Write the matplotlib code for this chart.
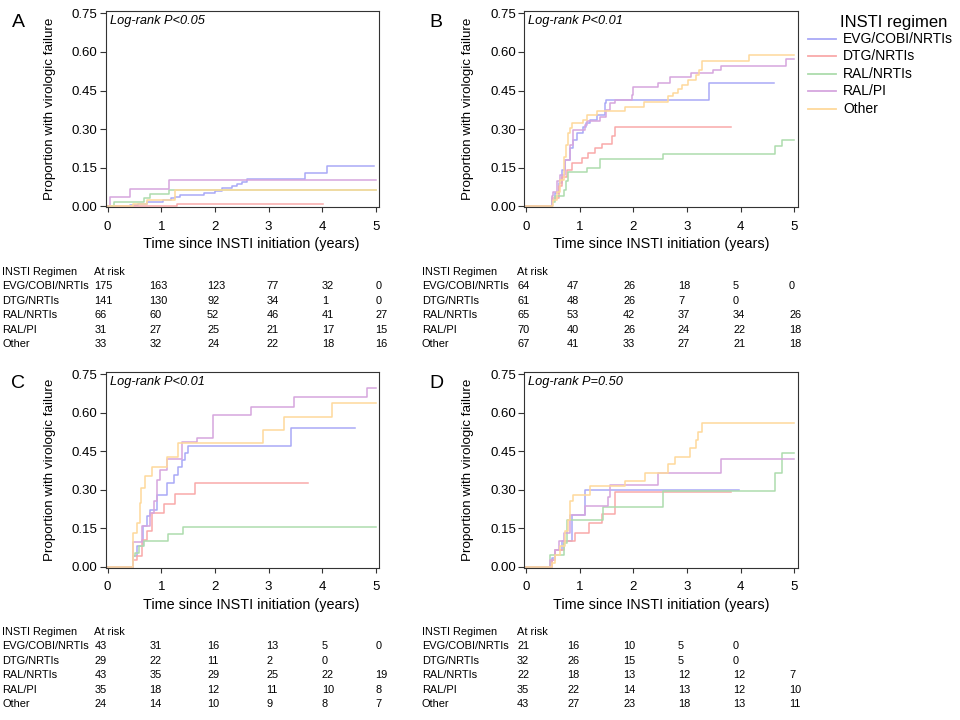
import matplotlib
matplotlib.use('Agg')
import matplotlib.pyplot as plt

W, H = 960, 720
plt.rcParams['font.family'] = ['Liberation Sans', 'DejaVu Sans']

# ---------------- data ----------------
groups = ['EVG/COBI/NRTIs', 'DTG/NRTIs', 'RAL/NRTIs', 'RAL/PI', 'Other']
colors = ['#a9a9f7', '#f9a9a9', '#addcad', '#d6a6de', '#fed99b']
years = [0, 1, 2, 3, 4, 5]
ytick_vals = [0.00, 0.15, 0.30, 0.45, 0.60, 0.75]
panel_letters = ['A', 'B', 'C', 'D']
logrank = ['Log-rank P<0.05', 'Log-rank P<0.01', 'Log-rank P<0.01', 'Log-rank P=0.50']

# Panel A
a_evg_t = [0, 0.41, 0.56, 0.74, 1.03, 1.18, 1.26, 1.35, 1.79, 2.00, 2.13, 2.31, 2.41, 2.50, 2.59, 3.68, 4.09, 4.96]
a_evg_p = [0, 0.004, 0.010, 0.019, 0.026, 0.031, 0.036, 0.045, 0.052, 0.062, 0.070, 0.078, 0.087, 0.096, 0.107, 0.129, 0.158, 0.158]
a_dtg_t = [0, 1.30, 4.02]
a_dtg_p = [0, 0.010, 0.010]
a_raln_t = [0, 0.11, 0.67, 0.79, 1.14, 5.0]
a_raln_p = [0, 0.018, 0.031, 0.049, 0.063, 0.063]
a_ralpi_t = [0, 0.04, 0.42, 1.15, 5.0]
a_ralpi_p = [0, 0.036, 0.066, 0.102, 0.102]
a_oth_t = [0, 0.48, 0.73, 1.26, 5.0]
a_oth_p = [0, 0.008, 0.025, 0.063, 0.063]

# Panel B
b_evg_t = [0, 0.48, 0.54, 0.61, 0.67, 0.73, 0.82, 0.88, 0.95, 1.07, 1.12, 1.19, 1.32, 1.47, 1.50, 3.41, 4.61]
b_evg_p = [0, 0.026, 0.052, 0.091, 0.142, 0.181, 0.226, 0.259, 0.284, 0.310, 0.323, 0.336, 0.356, 0.401, 0.414, 0.478, 0.478]
b_dtg_t = [0, 0.48, 0.61, 0.67, 0.76, 0.85, 1.04, 1.16, 1.29, 1.41, 1.60, 1.66, 3.82]
b_dtg_p = [0, 0.032, 0.078, 0.116, 0.142, 0.168, 0.188, 0.207, 0.226, 0.243, 0.272, 0.310, 0.310]
b_raln_t = [0, 0.48, 0.54, 0.70, 0.75, 0.79, 1.13, 1.38, 2.56, 4.63, 4.77, 5.0]
b_raln_p = [0, 0.019, 0.039, 0.065, 0.097, 0.132, 0.149, 0.184, 0.204, 0.235, 0.259, 0.259]
b_ralpi_t = [0, 0.48, 0.51, 0.58, 0.64, 0.73, 0.82, 0.88, 1.10, 1.14, 1.38, 1.49, 1.57, 1.66, 1.97, 2.00, 2.46, 2.68, 3.08, 3.48, 3.64, 4.85, 5.0]
b_ralpi_p = [0, 0.041, 0.058, 0.097, 0.123, 0.181, 0.239, 0.295, 0.317, 0.330, 0.349, 0.375, 0.401, 0.414, 0.433, 0.463, 0.478, 0.504, 0.517, 0.530, 0.546, 0.572, 0.572]
b_oth_t = [0, 0.51, 0.58, 0.64, 0.70, 0.75, 0.79, 0.82, 0.85, 1.07, 1.14, 1.32, 1.84, 2.20, 2.65, 2.74, 2.83, 2.91, 3.02, 3.17, 3.22, 3.27, 4.16, 5.0]
b_oth_p = [0, 0.026, 0.058, 0.103, 0.194, 0.239, 0.284, 0.304, 0.323, 0.336, 0.356, 0.369, 0.388, 0.407, 0.427, 0.440, 0.455, 0.472, 0.491, 0.511, 0.530, 0.566, 0.588, 0.588]

# Panel C
c_evg_t = [0, 0.48, 0.55, 0.66, 0.73, 0.79, 0.92, 1.10, 1.23, 1.32, 1.38, 1.45, 1.49, 3.41, 4.62]
c_evg_p = [0, 0.041, 0.080, 0.158, 0.197, 0.222, 0.281, 0.326, 0.358, 0.390, 0.416, 0.442, 0.471, 0.539, 0.539]
c_dtg_t = [0, 0.48, 0.55, 0.64, 0.73, 0.83, 1.05, 1.26, 1.63, 3.74]
c_dtg_p = [0, 0.028, 0.041, 0.106, 0.138, 0.209, 0.246, 0.284, 0.328, 0.328]
c_raln_t = [0, 0.48, 0.51, 0.58, 0.67, 1.12, 1.40, 5.0]
c_raln_p = [0, 0.041, 0.054, 0.080, 0.100, 0.129, 0.155, 0.155]
c_ralpi_t = [0, 0.48, 0.64, 0.79, 0.86, 0.92, 0.98, 1.10, 1.38, 1.66, 1.97, 2.67, 3.47, 4.84, 5.0]
c_ralpi_p = [0, 0.096, 0.158, 0.209, 0.255, 0.339, 0.378, 0.419, 0.487, 0.500, 0.591, 0.623, 0.659, 0.697, 0.697]
c_oth_t = [0, 0.48, 0.55, 0.60, 0.62, 0.69, 0.83, 1.10, 1.32, 2.90, 3.28, 4.19, 5.0]
c_oth_p = [0, 0.132, 0.171, 0.248, 0.306, 0.352, 0.390, 0.429, 0.481, 0.533, 0.584, 0.636, 0.636]

# Panel D
d_evg_t = [0, 0.48, 0.54, 0.67, 0.85, 1.10, 3.97]
d_evg_p = [0, 0.035, 0.067, 0.100, 0.203, 0.300, 0.300]
d_dtg_t = [0, 0.48, 0.54, 0.70, 0.92, 1.18, 1.42, 1.66, 3.82]
d_dtg_p = [0, 0.028, 0.067, 0.100, 0.132, 0.171, 0.206, 0.290, 0.290]
d_raln_t = [0, 0.45, 0.70, 0.76, 1.44, 2.56, 4.63, 4.77, 5.0]
d_raln_p = [0, 0.048, 0.093, 0.184, 0.235, 0.294, 0.365, 0.445, 0.445]
d_ralpi_t = [0, 0.45, 0.54, 0.61, 0.70, 0.82, 1.10, 1.53, 1.57, 2.46, 3.64, 5.0]
d_ralpi_p = [0, 0.028, 0.067, 0.100, 0.132, 0.203, 0.239, 0.274, 0.319, 0.367, 0.419, 0.419]
d_oth_t = [0, 0.48, 0.54, 0.64, 0.73, 0.79, 0.82, 0.88, 1.19, 1.84, 2.22, 2.65, 2.77, 3.05, 3.16, 3.21, 3.27, 5.0]
d_oth_p = [0, 0.016, 0.048, 0.080, 0.138, 0.184, 0.255, 0.281, 0.313, 0.336, 0.367, 0.401, 0.429, 0.462, 0.494, 0.526, 0.559, 0.559]

# Numbers at risk (rows follow `groups`, columns follow `years`)
a_risk = [[175, 163, 123, 77, 32, 0], [141, 130, 92, 34, 1, 0], [66, 60, 52, 46, 41, 27],
          [31, 27, 25, 21, 17, 15], [33, 32, 24, 22, 18, 16]]
b_risk = [[64, 47, 26, 18, 5, 0], [61, 48, 26, 7, 0, None], [65, 53, 42, 37, 34, 26],
          [70, 40, 26, 24, 22, 18], [67, 41, 33, 27, 21, 18]]
c_risk = [[43, 31, 16, 13, 5, 0], [29, 22, 11, 2, 0, None], [43, 35, 29, 25, 22, 19],
          [35, 18, 12, 11, 10, 8], [24, 14, 10, 9, 8, 7]]
d_risk = [[21, 16, 10, 5, 0, None], [32, 26, 15, 5, 0, None], [22, 18, 13, 12, 12, 7],
          [35, 22, 14, 13, 12, 10], [43, 27, 23, 18, 13, 11]]

panels = [
    [(a_evg_t, a_evg_p), (a_dtg_t, a_dtg_p), (a_raln_t, a_raln_p), (a_ralpi_t, a_ralpi_p), (a_oth_t, a_oth_p)],
    [(b_evg_t, b_evg_p), (b_dtg_t, b_dtg_p), (b_raln_t, b_raln_p), (b_ralpi_t, b_ralpi_p), (b_oth_t, b_oth_p)],
    [(c_evg_t, c_evg_p), (c_dtg_t, c_dtg_p), (c_raln_t, c_raln_p), (c_ralpi_t, c_ralpi_p), (c_oth_t, c_oth_p)],
    [(d_evg_t, d_evg_p), (d_dtg_t, d_dtg_p), (d_raln_t, d_raln_p), (d_ralpi_t, d_ralpi_p), (d_oth_t, d_oth_p)],
]
risks = [a_risk, b_risk, c_risk, d_risk]

# ---------------- layout (pixels) ----------------
fig = plt.figure(figsize=(W / 100, H / 100), dpi=100)
fig.patch.set_facecolor('white')

def fx(px):
    return px / W

def fy(py):
    return 1 - py / H

boxes = [(106, 10.7, 379, 207), (524.3, 10.7, 797.7, 207),
         (106, 371.5, 379, 567.5), (524.3, 371.5, 797.7, 567.5)]
dark = '#333333'

for k, (l, t, r, b) in enumerate(boxes):
    ax = fig.add_axes([fx(l), fy(b), (r - l) / W, (b - t) / H])
    for (tt, pp), col in zip(panels[k], colors):
        ax.plot(tt, pp, drawstyle='steps-post', color=col, lw=1.1)
    ax.set_xlim(-0.03, 5.06)
    ax.set_ylim(-0.002, 0.76)
    ax.set_xticks(years)
    ax.set_xticklabels([str(y) for y in years])
    ax.set_yticks(ytick_vals)
    ax.set_yticklabels(['%.2f' % v for v in ytick_vals])
    ax.tick_params(axis='x', direction='out', length=3.5, width=0.8, pad=6.5,
                   labelsize=9.5, color=dark, labelcolor='black')
    ax.tick_params(axis='y', direction='out', length=4.5, width=0.8, pad=1.5,
                   labelsize=9.5, color=dark, labelcolor='black')
    for s in ax.spines.values():
        s.set_color(dark)
        s.set_linewidth(0.8)
    # log-rank text
    fig.text(fx(l + 4), fy(t + 10.5), logrank[k], style='italic', fontsize=9.2,
             ha='left', va='center')
    # panel letter
    fig.text(fx(l - 88), fy(t + 11.5), panel_letters[k], fontsize=14, ha='center', va='center')
    # y label
    fig.text(fx(l - 56), fy((t + b) / 2), 'Proportion with virologic failure', rotation=90,
             fontsize=9.6, ha='center', va='center')
    # x label
    xl_center = 251 if k in (0, 2) else 661.5
    fig.text(fx(xl_center), fy(b + 37), 'Time since INSTI initiation (years)',
             fontsize=10.4, ha='center', va='center')

    # at-risk table
    left_px = 2.5 if k in (0, 2) else 422
    cols_px = [94.5, 149.5, 207, 266.5, 322, 375.5] if k in (0, 2) else [517, 567, 623, 678, 733, 789]
    row0 = 272 if k < 2 else 632
    dy = 14.4
    tfs = 7.9
    fig.text(fx(left_px), fy(row0), 'INSTI Regimen', fontsize=tfs, ha='left', va='center')
    fig.text(fx(cols_px[0]), fy(row0), 'At risk', fontsize=tfs, ha='left', va='center')
    for i, g in enumerate(groups):
        yy = row0 + dy * (i + 1)
        fig.text(fx(left_px), fy(yy), g, fontsize=tfs, ha='left', va='center')
        for j, v in enumerate(risks[k][i]):
            if v is not None:
                fig.text(fx(cols_px[j]), fy(yy), str(v), fontsize=tfs, ha='left', va='center')

# legend
fig.text(fx(840), fy(22), 'INSTI regimen', fontsize=12, ha='left', va='center')
for i, (g, col) in enumerate(zip(groups, colors)):
    yy = 39 + 17.4 * i
    fig.add_artist(plt.Line2D([fx(808), fx(836)], [fy(yy), fy(yy)], color=col, lw=1.3,
                              transform=fig.transFigure))
    fig.text(fx(843), fy(yy), g, fontsize=10, ha='left', va='center')

fig.savefig('out.png', dpi=100, facecolor='white')
